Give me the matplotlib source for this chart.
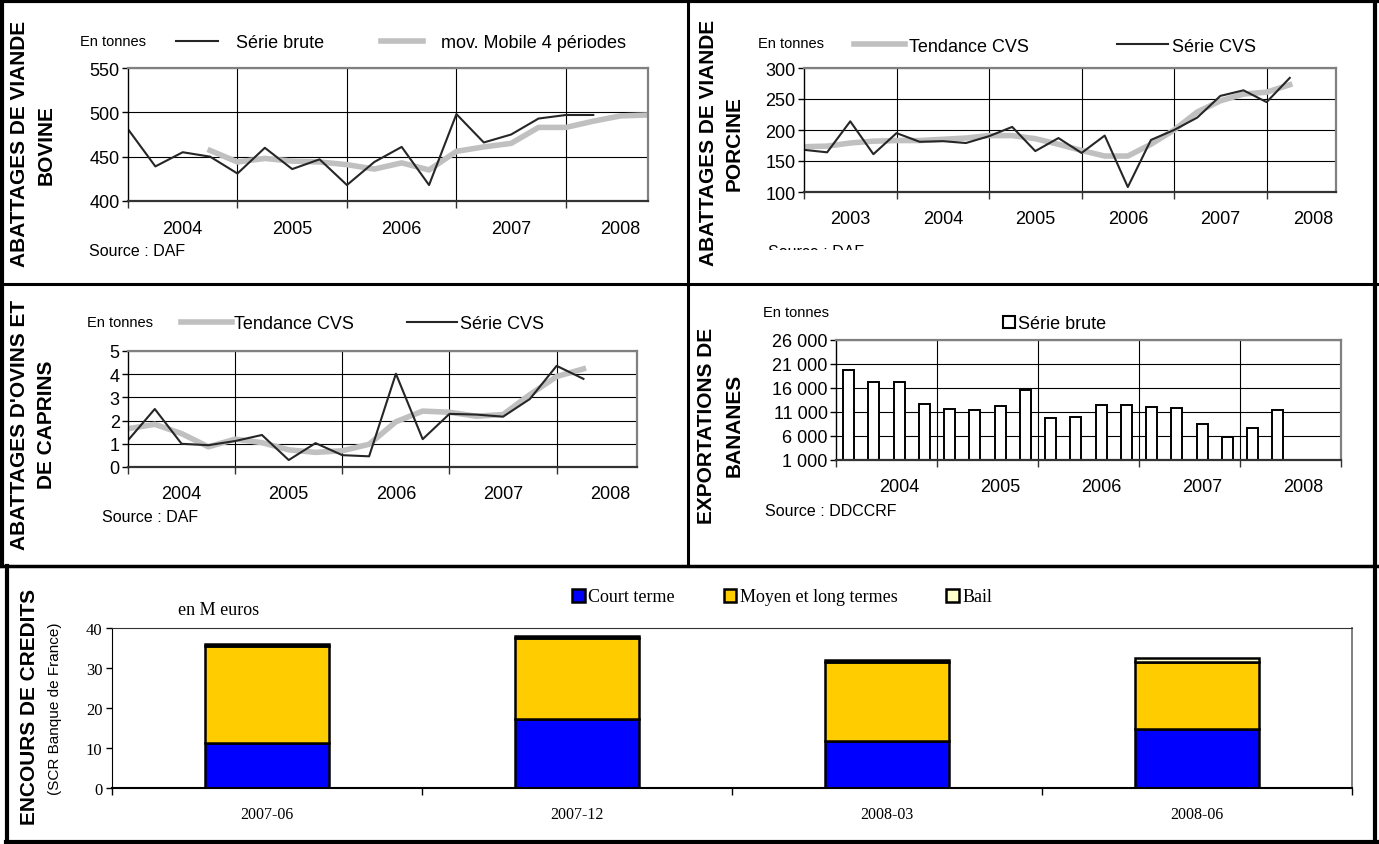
import numpy as np
import matplotlib.pyplot as plt
from matplotlib.lines import Line2D
from matplotlib.patches import Patch
from matplotlib.transforms import Bbox, TransformedBbox

plt.rcParams['font.family'] = ['Liberation Sans', 'DejaVu Sans']

W, H = 1379, 845

# --- données ---
annees_bov = ['2004', '2005', '2006', '2007', '2008']
bovin_brute = [481, 439, 455, 450, 431, 460, 436, 447, 418, 444, 461, 418,
               498, 466, 475, 493, 497, 497]
bovin_mm = [457, 444, 448, 445, 444, 441, 436, 443, 435, 456, 461, 465,
            483, 483, 490, 496, 497]          # commence au 4e trimestre

annees_porc = ['2003', '2004', '2005', '2006', '2007', '2008']
porc_cvs = [168, 164, 214, 161, 195, 181, 182, 179, 190, 205, 166, 187,
            163, 191, 108, 184, 200, 220, 255, 264, 245, 284]
porc_tend = [173, 174, 179, 182, 183, 183, 185, 187, 191, 191, 186, 177,
             167, 158, 158, 177, 200, 229, 247, 258, 261, 273]

annees_ov = ['2004', '2005', '2006', '2007', '2008']
ovin_cvs = [1.15, 2.5, 1.0, 0.94, 1.12, 1.38, 0.3, 1.03, 0.51, 0.46, 4.02,
            1.2, 2.29, 2.26, 2.17, 2.93, 4.36, 3.8]
ovin_tend = [1.65, 1.84, 1.44, 0.87, 1.2, 1.05, 0.74, 0.63, 0.7, 0.98, 1.95,
             2.41, 2.36, 2.19, 2.26, 3.12, 3.9, 4.23]

annees_ban = ['2004', '2005', '2006', '2007', '2008']
bananes = [19800, 17250, 17250, 12700, 11650, 11350, 12200, 15500, 9750,
           10050, 12500, 12500, 12000, 11850, 8500, 5700, 7600, 11400]

periodes = ['2007-06', '2007-12', '2008-03', '2008-06']
court = [11.3, 17.2, 11.8, 14.7]
moyen = [24.3, 20.3, 19.8, 16.8]
bail = [0.4, 0.4, 0.5, 1.1]

fig = plt.figure(figsize=(W / 100, H / 100), dpi=100)


def px_axes(x0, y0, x1, y1):
    return fig.add_axes([x0 / W, 1 - y1 / H, (x1 - x0) / W, (y1 - y0) / H])


def ftext(x, y, s, **kw):
    return fig.text(x / W, 1 - y / H, s, **kw)


def style_line_ax(ax, xmax, ylim, ystep, bounds, labels, pad):
    ax.set_xlim(0, xmax)
    ax.set_ylim(*ylim)
    ax.set_yticks(np.arange(ylim[0], ylim[1] + ystep / 2, ystep))
    ax.yaxis.grid(True, color='black', lw=0.8)
    ax.set_axisbelow(True)
    for b in bounds[1:]:
        ax.axvline(b, color='black', lw=0.8, zorder=0.5)
    ax.set_xticks(bounds)
    ax.set_xticklabels([])
    pos = [b + 2 for b in bounds[:len(labels)]]
    ax.set_xticks(pos, minor=True)
    ax.set_xticklabels(labels, minor=True)
    ax.tick_params(axis='x', which='major', length=5, width=1, color='#333333')
    ax.tick_params(axis='x', which='minor', length=0, pad=pad, labelsize=13)
    ax.tick_params(axis='y', length=4, width=1, labelsize=13, pad=2)
    ax.spines['top'].set_color('#808080')
    ax.spines['right'].set_color('#808080')
    ax.spines['top'].set_linewidth(1.6)
    ax.spines['right'].set_linewidth(1.6)
    ax.spines['left'].set_color('black')
    ax.spines['left'].set_linewidth(1.0)
    ax.spines['bottom'].set_color('#333333')
    ax.spines['bottom'].set_linewidth(1.6)


noir = '#262626'
gris = '#C0C0C0'

# --- viande bovine ---
ax1 = px_axes(128, 69, 648, 202)
l_brute, = ax1.plot(np.arange(len(bovin_brute)), bovin_brute, color=noir, lw=1.5)
l_mm, = ax1.plot(np.arange(3, 3 + len(bovin_mm)), bovin_mm, color=gris, lw=4,
                 zorder=1.5)
style_line_ax(ax1, 19, (400, 550), 50, [0, 4, 8, 12, 16], annees_bov, 14)
fig.legend([l_brute, l_mm], ['Série brute', 'mov. Mobile 4 périodes'],
           loc='center left', bbox_to_anchor=(176 / W, 1 - 44 / H), ncol=2,
           frameon=False, fontsize=13, handlelength=2.3, handletextpad=1.0,
           columnspacing=3.2, borderpad=0, borderaxespad=0)
ftext(80, 42, 'En tonnes', fontsize=10.5, va='center')
ftext(89, 252, 'Source : DAF', fontsize=11.5, va='center')
ftext(20, 144, 'ABATTAGES DE VIANDE', fontsize=15, fontweight='bold',
      rotation=90, ha='center', va='center')
ftext(46, 145, 'BOVINE', fontsize=15, fontweight='bold',
      rotation=90, ha='center', va='center')

# --- viande porcine ---
ax2 = px_axes(804, 69, 1336, 193)
l_tp, = ax2.plot(np.arange(len(porc_tend)), porc_tend, color=gris, lw=4)
l_cp, = ax2.plot(np.arange(len(porc_cvs)), porc_cvs, color=noir, lw=1.5)
style_line_ax(ax2, 23, (100, 300), 50, [0, 4, 8, 12, 16, 20], annees_porc, 13)
fig.legend([l_tp, l_cp], ['Tendance CVS', 'Série CVS'],
           loc='center left', bbox_to_anchor=(854 / W, 1 - 47 / H), ncol=2,
           frameon=False, fontsize=13, handlelength=2.8, handletextpad=0.25,
           columnspacing=4.9, borderpad=0, borderaxespad=0)
ftext(758, 44, 'En tonnes', fontsize=10.5, va='center')
src = ftext(768, 245, 'Source : DAF', fontsize=11.5, va='top')
src.set_clip_box(TransformedBbox(Bbox([[700 / W, 1 - 251 / H], [900 / W, 1 - 235 / H]]),
                                 fig.transFigure))
src.set_clip_on(True)
ftext(708, 143, 'ABATTAGES DE VIANDE', fontsize=15, fontweight='bold',
      rotation=90, ha='center', va='center')
ftext(734, 144, 'PORCINE', fontsize=15, fontweight='bold',
      rotation=90, ha='center', va='center')

# --- ovins et caprins ---
ax3 = px_axes(128, 352, 637, 468)
l_to, = ax3.plot(np.arange(len(ovin_tend)), ovin_tend, color=gris, lw=4)
l_co, = ax3.plot(np.arange(len(ovin_cvs)), ovin_cvs, color=noir, lw=1.5)
style_line_ax(ax3, 19, (0, 5), 1, [0, 4, 8, 12, 16], annees_ov, 13)
fig.legend([l_to, l_co], ['Tendance CVS', 'Série CVS'],
           loc='center left', bbox_to_anchor=(181 / W, 1 - 325 / H), ncol=2,
           frameon=False, fontsize=13, handlelength=2.8, handletextpad=0.15,
           columnspacing=2.9, borderpad=0, borderaxespad=0)
ftext(87, 323, 'En tonnes', fontsize=10.5, va='center')
ftext(102, 518, 'Source : DAF', fontsize=11.5, va='center')
ftext(20, 425, "ABATTAGES D'OVINS ET", fontsize=15, fontweight='bold',
      rotation=90, ha='center', va='center')
ftext(46, 425, 'DE CAPRINS', fontsize=15, fontweight='bold',
      rotation=90, ha='center', va='center')

# --- bananes ---
ax4 = px_axes(836, 341, 1341, 461)
xb = np.arange(len(bananes)) + 0.5
barres = ax4.bar(xb, np.array(bananes) - 1000, bottom=1000, width=0.44,
                 color='white', edgecolor='black', lw=1.4, zorder=2)
style_line_ax(ax4, 20, (1000, 26000), 5000, [0, 4, 8, 12, 16, 20], annees_ban, 13)
ax4.set_xticks([b + 2.5 for b in [0, 4, 8, 12, 16]], minor=True)
ax4.set_xticklabels(annees_ban, minor=True)
ax4.set_yticklabels([f'{int(v):,}'.replace(',', ' ') for v in ax4.get_yticks()])
fig.legend([Patch(facecolor='white', edgecolor='black', lw=1.5)], ['Série brute'],
           loc='center left', bbox_to_anchor=(1003 / W, 1 - 325 / H),
           frameon=False, fontsize=13, handlelength=0.65, handleheight=0.65,
           handletextpad=0.2, borderpad=0, borderaxespad=0)
ftext(763, 313, 'En tonnes', fontsize=10.5, va='center')
ftext(765, 511, 'Source : DDCCRF', fontsize=11.5, va='center')
ftext(707, 426, 'EXPORTATIONS DE', fontsize=15, fontweight='bold',
      rotation=90, ha='center', va='center')
ftext(734, 425, 'BANANES', fontsize=15, fontweight='bold',
      rotation=90, ha='center', va='center')

# --- encours de crédits ---
ax5 = px_axes(112, 629, 1352, 789)
xc = np.arange(len(periodes))
court_a, moyen_a, bail_a = np.array(court), np.array(moyen), np.array(bail)
b1 = ax5.bar(xc, court_a, width=0.4, color='#0000FF', edgecolor='black', lw=1.8)
b2 = ax5.bar(xc, moyen_a, bottom=court_a, width=0.4, color='#FFCC00',
             edgecolor='black', lw=1.8)
b3 = ax5.bar(xc, bail_a, bottom=court_a + moyen_a, width=0.4, color='#FFFFCC',
             edgecolor='black', lw=1.8)
ax5.set_xlim(-0.5, 3.5)
ax5.set_ylim(0, 40)
ax5.set_yticks([0, 10, 20, 30, 40])
ax5.set_xticks([-0.5, 0.5, 1.5, 2.5, 3.5])
ax5.set_xticklabels([])
ax5.set_xticks(xc, minor=True)
ax5.set_xticklabels(periodes, minor=True, family='Liberation Serif')
ax5.tick_params(axis='x', which='major', length=5, width=1)
ax5.tick_params(axis='x', which='minor', length=0, pad=13, labelsize=11.5)
ax5.tick_params(axis='y', length=4, width=1, labelsize=12, pad=3)
for t in ax5.get_yticklabels():
    t.set_family('Liberation Serif')
ax5.spines['top'].set_color('#333333')
ax5.spines['right'].set_color('#808080')
ax5.spines['right'].set_linewidth(1.4)
ax5.spines['bottom'].set_linewidth(1.5)
fig.legend([b1, b2, b3], ['Court terme', 'Moyen et long termes', 'Bail'],
           loc='center left', bbox_to_anchor=(572 / W, 1 - 598 / H), ncol=3,
           frameon=False, prop={'family': 'Liberation Serif', 'size': 13},
           handlelength=0.7, handleheight=0.7, handletextpad=0.2,
           columnspacing=2.7, borderpad=0, borderaxespad=0)
ftext(178, 611, 'en M euros', fontsize=13, family='Liberation Serif', va='center')
ftext(30, 707, 'ENCOURS DE CREDITS', fontsize=15, fontweight='bold',
      rotation=90, ha='center', va='center')
ftext(55, 709, '(SCR Banque de France)', fontsize=11, rotation=90,
      ha='center', va='center')

# --- cadres ---
def hline(y, x0, x1, lw):
    fig.add_artist(Line2D([x0 / W, x1 / W], [1 - y / H, 1 - y / H],
                          transform=fig.transFigure, color='black', lw=lw))


def vline(x, y0, y1, lw):
    fig.add_artist(Line2D([x / W, x / W], [1 - y0 / H, 1 - y1 / H],
                          transform=fig.transFigure, color='black', lw=lw))


hline(2, 0, W, 3)
hline(843, 6, W, 3)
vline(2, 0, 567, 3)
vline(7, 567, H, 3)
vline(1375, 0, H, 3)
hline(285, 0, W, 2.2)
hline(567, 0, W, 2.5)
vline(688, 0, 567, 2.2)

fig.savefig('out.png', dpi=100)
